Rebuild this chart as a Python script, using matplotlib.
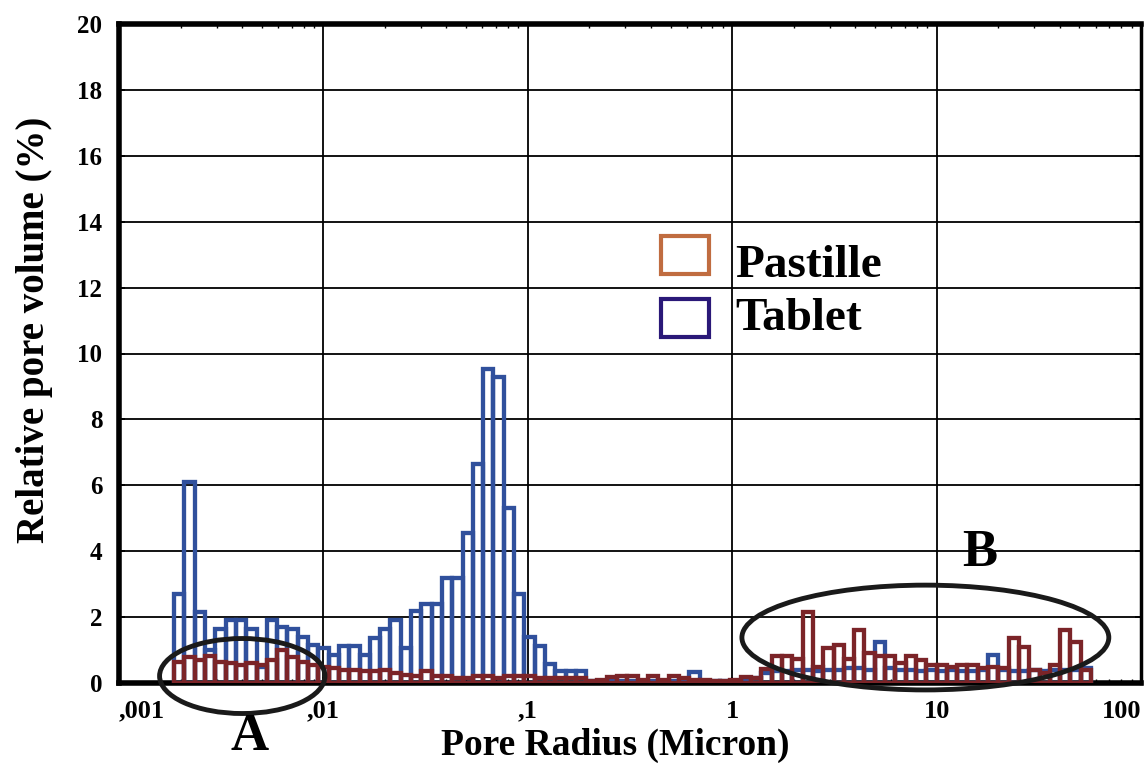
import numpy as np
import matplotlib
matplotlib.use('Agg')
import matplotlib.pyplot as plt
from matplotlib.patches import Ellipse, Rectangle

plt.rcParams['font.family'] = ['Liberation Serif', 'DejaVu Serif']
plt.rcParams['font.weight'] = 'bold'

# relative pore volume (%) per log-spaced radius class, from ~0.0019 to ~57 micron
tablet = [2.7, 6.1, 2.15, 1.0, 1.65, 1.9, 1.9, 1.65, 0.5, 1.9,
          1.7, 1.65, 1.4, 1.15, 1.05, 0.85, 1.12, 1.12, 0.85, 1.38,
          1.65, 1.92, 1.06, 2.2, 2.4, 2.4, 3.2, 3.2, 4.54, 6.65,
          9.52, 9.3, 5.32, 2.69, 1.39, 1.12, 0.58, 0.35, 0.35, 0.35,
          0.05, 0.05, 0.05, 0.05, 0.05, 0.05, 0.05, 0.05, 0.05, 0.05,
          0.33, 0.05, 0.05, 0.05, 0.05, 0.1, 0.15, 0.3, 0.35, 0.35,
          0.4, 0.4, 0.35, 0.4, 0.4, 0.45, 0.45, 0.4, 1.25, 0.45,
          0.4, 0.4, 0.35, 0.4, 0.35, 0.4, 0.35, 0.35, 0.4, 0.85,
          0.4, 0.35, 0.35, 0.4, 0.35, 0.4, 0.4, 0.4, 0.45]
pastille = [0.65, 0.8, 0.7, 0.82, 0.65, 0.6, 0.55, 0.6, 0.55, 0.7,
            1.0, 0.8, 0.65, 0.55, 0.5, 0.45, 0.4, 0.4, 0.35, 0.35,
            0.4, 0.3, 0.25, 0.2, 0.35, 0.2, 0.2, 0.15, 0.15, 0.2,
            0.2, 0.15, 0.2, 0.2, 0.2, 0.15, 0.15, 0.14, 0.14, 0.14,
            0.05, 0.1, 0.17, 0.2, 0.2, 0.1, 0.2, 0.1, 0.2, 0.15,
            0.1, 0.1, 0.05, 0.05, 0.1, 0.17, 0.15, 0.41, 0.82, 0.82,
            0.72, 2.15, 0.5, 1.06, 1.16, 0.72, 1.61, 0.9, 0.82, 0.82,
            0.6, 0.82, 0.7, 0.56, 0.56, 0.48, 0.54, 0.54, 0.46, 0.48,
            0.46, 1.38, 1.1, 0.4, 0.3, 0.56, 1.61, 1.23, 0.4]
first_radius = 0.00186
last_radius = 57.0

x_ticks = [0.001, 0.01, 0.1, 1, 10, 100]
x_tick_labels = [',001', ',01', ',1', '1', '10', '100']
y_ticks = list(range(0, 21, 2))

BLUE = '#30509c'
RED = '#7b2428'

edges = np.logspace(np.log10(first_radius), np.log10(last_radius), len(tablet) + 1)

fig = plt.figure(figsize=(11.44, 7.63), dpi=100)
ax = fig.add_axes([119 / 1144, 80 / 763, 1022 / 1144, 659 / 763])

ax.bar(edges[:-1], tablet, width=np.diff(edges), align='edge', fill=False,
       edgecolor=BLUE, linewidth=3.1, zorder=3)
ax.bar(edges[:-1], pastille, width=np.diff(edges), align='edge', fill=False,
       edgecolor=RED, linewidth=3.1, zorder=4)

ax.set_xscale('log')
ax.set_xlim(0.001, 100)
ax.set_ylim(0, 20)
ax.set_xticks(x_ticks)
ax.set_xticklabels(x_tick_labels)
ax.set_yticks(y_ticks)
ax.grid(True, which='major', color='black', linewidth=1.3)
ax.set_axisbelow(True)

for side in ['left', 'bottom', 'top']:
    ax.spines[side].set_linewidth(4)
ax.spines['right'].set_linewidth(2.5)

ax.tick_params(axis='both', which='major', direction='in', length=4, width=1.3,
               right=True)
ax.tick_params(axis='x', which='major', pad=12, labelsize=19)
ax.tick_params(axis='y', which='major', pad=12, labelsize=18)
ax.tick_params(axis='x', which='minor', direction='in', length=3, width=1, top=True)
xl = ax.get_xticklabels()
xl[0].set_ha('left')
xl[-1].set_ha('right')

# circled regions
ax.add_patch(Ellipse((0.1206, 0.0106), 0.1618, 0.1138, transform=ax.transAxes,
                     fill=False, edgecolor='#1a1a1a', linewidth=3.5, clip_on=False, zorder=5))
ax.add_patch(Ellipse((0.789, 0.069), 0.359, 0.159, transform=ax.transAxes,
                     fill=False, edgecolor='#1a1a1a', linewidth=3.5, clip_on=False, zorder=5))

fig.text(250 / 1144, 1 - 737 / 763, 'A', fontsize=38, ha='center', va='center')
fig.text(980 / 1144, 1 - 553 / 763, 'B', fontsize=38, ha='center', va='center')

# legend
fig.add_artist(Rectangle((661 / 1144, 1 - 274 / 763), 48 / 1144, 38 / 763,
                         transform=fig.transFigure, fill=False, edgecolor='#c06c40', linewidth=3))
fig.add_artist(Rectangle((661 / 1144, 1 - 337 / 763), 48 / 1144, 38 / 763,
                         transform=fig.transFigure, fill=False, edgecolor='#2a1878', linewidth=3))
fig.text(735 / 1144, 1 - 277 / 763, 'Pastille', fontsize=34, ha='left', va='baseline')
fig.text(735 / 1144, 1 - 330 / 763, 'Tablet', fontsize=34, ha='left', va='baseline')

fig.text(35 / 1144, 1 - 330 / 763, 'Relative pore volume (%)', fontsize=28,
         rotation=90, ha='center', va='center')
fig.text(615 / 1144, 1 - 745 / 763, 'Pore Radius (Micron)', fontsize=27,
         ha='center', va='center')

fig.savefig('out.png', dpi=100)
